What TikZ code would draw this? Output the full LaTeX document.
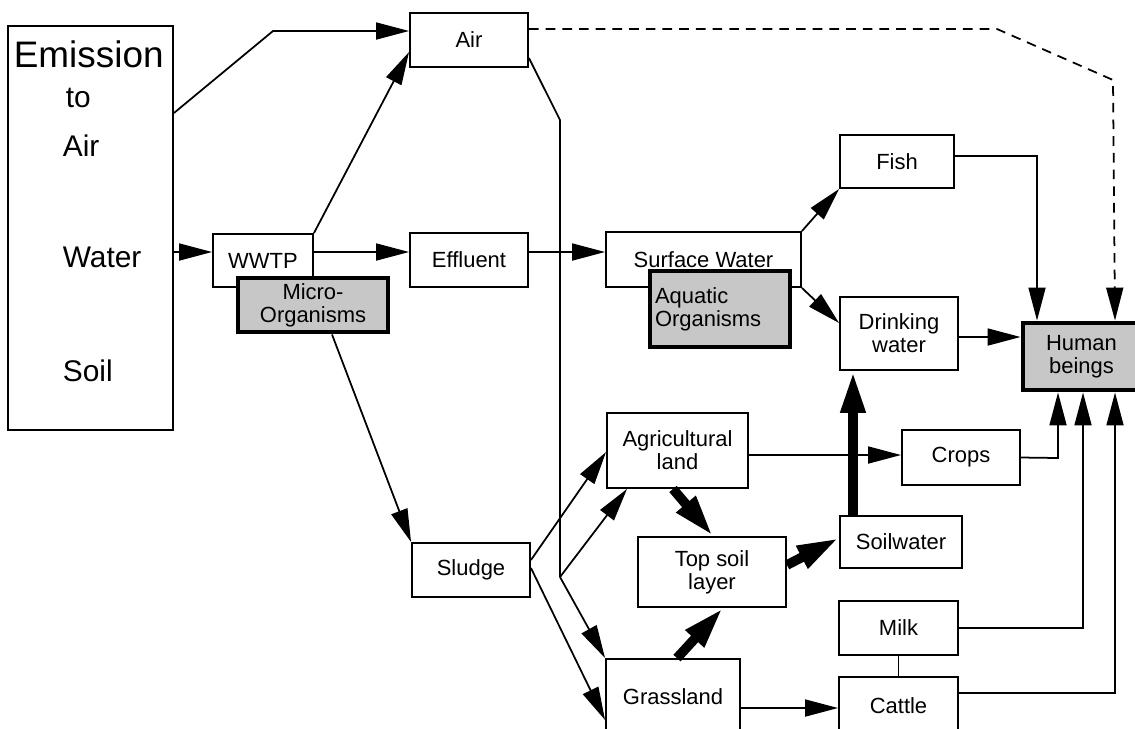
\documentclass[tikz,border=0pt]{standalone}
\usepackage{fontspec}
\setmainfont{Liberation Sans}
\usetikzlibrary{arrows.meta, positioning, calc}
\tikzset{
  every picture/.style={line width=1pt, x=0.02cm, y=-0.02cm},
  box/.style={draw, fill=white, line width=1.1pt, align=center, inner sep=0pt, font=\fontsize{12.5}{13}\selectfont},
  organism/.style={box, fill=black!22, line width=2.8pt},
  arrow/.style={-{Triangle[length=0.66cm, width=0.34cm]}, line width=1pt},
  flow/.style={-{Triangle[length=0.84cm, width=0.46cm]}, line width=5.5pt},
  route/.style={dash pattern=on 5.5pt off 4pt, -{Triangle[length=0.66cm, width=0.34cm]}, line width=1pt},
  emit/.style={anchor=base west, inner sep=0pt, font=\fontsize{17}{20}\selectfont},
}

\begin{document}
\begin{tikzpicture}
  \useasboundingbox (0,0) rectangle (1135,728);
  % emission source
  \node[box, minimum width=3.3cm, minimum height=8.08cm] (emission) at (90.5,228) {};
  \node[emit, font=\fontsize{21}{24}\selectfont] (emtitle) at (13,67) {Emission};
  \foreach \n/\x/\y/\t in {emto/65/107/to, emair/62/156/Air, emwater/62/267/Water, emsoil/62/381/Soil}
    \node[emit] (\n) at (\x,\y) {\t};

  % compartments
  \foreach \n/\x/\y/\w/\h/\t in {air/469/40/2.36/1.08/Air, wwtp/263/260.5/2.0/1.06/WWTP,
      effluent/469/260/2.36/1.08/Effluent, sludge/471/570/2.36/1.08/Sludge,
      surface/703.5/259.5/3.9/1.1/Surface Water, fish/897/161.5/2.28/1.06/Fish,
      drinking/899/333.5/2.36/1.46/{Drinking\\water}, crops/961/457.5/2.36/1.1/Crops,
      agri/677.5/450.5/2.82/1.5/{Agricultural\\land}, topsoil/712/572/2.96/1.4/{Top soil\\layer},
      soilwater/901/542/2.44/1.04/Soilwater, grass/673/697/2.68/1.52/Grassland,
      milk/898.5/628/2.38/1.08/Milk, cattle/898.5/706/2.38/1.16/Cattle}
    \node[box, minimum width=\w cm, minimum height=\h cm] (\n) at (\x,\y) {\t};

  % organisms
  \node[organism, minimum width=3cm, minimum height=1.08cm] (micro) at (313,305) {Micro-\\Organisms};
  \node[organism, minimum width=2.8cm, minimum height=1.52cm, text width=2.6cm, align=left] (aquatic) at (720,309) {Aquatic\\Organisms};
  \node[organism, minimum width=2.34cm, minimum height=1.34cm] (human) at (1081.5,356.5) {Human\\beings};

  % emissions and treatment
  \draw[arrow] (emission.east |- 0,113) -- (273,31) -- (air.west |- 0,31);
  \draw[arrow] (emission.east |- 0,252) -- (wwtp.west |- 0,252);
  \draw[arrow] (wwtp.north east) -- (air.west |- 0,52);
  \draw[arrow] (wwtp.east |- 0,252) -- (effluent.west |- 0,252);
  \draw[arrow] (micro.south -| 332,0) -- (sludge.north west);
  \draw[arrow] (effluent.east |- 0,252) -- (surface.west |- 0,252);

  % deposition from air
  \coordinate (deposit) at (560,577);
  \draw (air.east |- 0,58) -- (560,120) -- (deposit);
  \draw[arrow] (deposit) -- (agri.south -| 627,0);
  \draw[arrow] (deposit) -- (grass.north west);
  \draw[route] (air.east |- 0,29) -- (997,29) -- (1113,80) -- (human.north -| 1115,0);

  % sludge on land
  \draw[arrow] (sludge.east |- 0,560) -- (agri.west |- 0,452);
  \draw[arrow] (sludge.east |- 0,568) -- (grass.west |- 0,720);
  \draw[arrow] (agri.east |- 0,455) -- (crops.west |- 0,455);
  \draw[arrow] (grass.east |- 0,708) -- (cattle.west |- 0,708);
  \draw (milk.south) -- (cattle.north);

  % water
  \draw[arrow] (surface.north east) -- (fish.south west);
  \draw[arrow] (surface.south east) -- (drinking.west |- 0,323);

  % soil transport
  \draw[flow] (agri.south -| 673,0) -- (topsoil.north -| 713,0);
  \draw[flow] (grass.north -| 677,0) -- (topsoil.south -| 723,0);
  \draw[flow] (topsoil.east |- 0,565) -- (soilwater.west |- 0,538);
  \draw[flow] (soilwater.north -| 853,0) -- (drinking.south -| 853,0);

  % exposure of humans
  \draw[arrow] (fish.east |- 0,156) -- (1037,156) -- (human.north -| 1037,0);
  \draw[arrow] (drinking.east |- 0,337) -- (human.west |- 0,337);
  \draw[arrow] (crops.east) -- (1058,458) -- (human.south -| 1058,0);
  \draw[arrow] (milk.east) -- (1083,628) -- (human.south -| 1083,0);
  \draw[arrow] (cattle.east |- 0,693) -- (1115,693) -- (human.south -| 1115,0);
\end{tikzpicture}
\end{document}
